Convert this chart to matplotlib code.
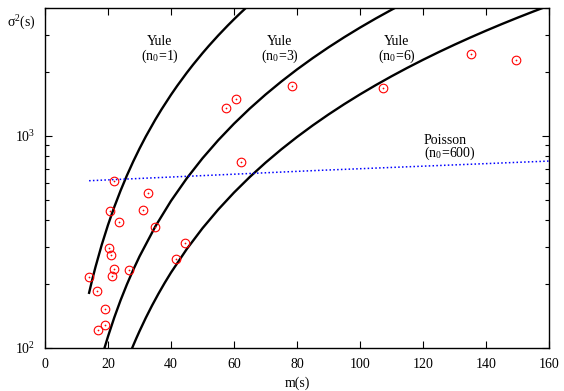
import matplotlib
matplotlib.use("Agg")
import matplotlib.pyplot as plt
from matplotlib.ticker import LogLocator, NullFormatter, FixedLocator

plt.rcParams['font.family'] = ['Liberation Serif', 'DejaVu Serif']
plt.rcParams['mathtext.fontset'] = 'stix'

# Observed data points
obs_m = [14.1, 16.6, 19.0, 19.1, 16.9, 20.2, 21.0, 22.0, 21.2, 26.7,
         20.7, 23.5, 21.9, 32.8, 31.1, 35.0, 44.3, 41.5,
         57.6, 60.6, 78.5, 62.3, 107.4, 135.2, 149.6]
obs_var = [217, 185, 152, 129, 122, 297, 274, 236, 218, 234,
           443, 393, 615, 540, 448, 373, 312, 263,
           1355, 1489, 1722, 754, 1683, 2426, 2265]

# Yule curves (n0 = 1, 3, 6)
yule1_m = [14, 15, 16, 18, 20, 22, 24, 26, 28, 30, 32, 35, 37, 40, 42, 45, 47, 50,
           52, 55, 58, 60, 62, 64]
yule1_v = [182, 210, 240, 306, 380, 462, 552, 650, 756, 870, 992, 1190, 1332, 1560, 1722,
           1980, 2162, 2450, 2652, 2970, 3306, 3540, 3782, 4032]

yule3_m = [18, 19, 20, 22, 24, 26, 28, 30, 35, 40, 45, 50, 55, 60, 65, 70, 75, 80, 85,
           90, 95, 100, 105, 110, 112]
yule3_v = [90, 101.3, 113.3, 139.3, 168, 199.3, 233.3, 270, 373.3, 493.3, 630, 783.3, 953.3,
           1140, 1343.3, 1563.3, 1800, 2053.3, 2323.3, 2610, 2913.3, 3233.3, 3570, 3923.3,
           4069.3]

yule6_m = [27, 28, 29, 30, 32, 34, 36, 38, 40, 45, 50, 55, 60, 65, 70, 75, 80, 85, 90, 95,
           100, 105, 110, 115, 120, 125, 130, 135, 140, 145, 150, 155, 160]
yule6_v = [94.5, 102.7, 111.2, 120, 138.7, 158.7, 180, 202.7, 226.7, 292.5, 366.7, 449.2,
           540, 639.2, 746.7, 862.5, 986.7, 1119.2, 1260, 1409.2, 1566.7, 1732.5, 1906.7,
           2089.2, 2280, 2479.2, 2686.7, 2902.5, 3126.7, 3359.2, 3600, 3849.2, 4106.7]

# Poisson line (n0 = 600)
pois_m = [14, 87, 160]
pois_v = [614, 687, 760]

x_ticks = [0, 20, 40, 60, 80, 100, 120, 140, 160]

fig = plt.figure(figsize=(5.64, 3.91), dpi=100)
ax = fig.add_axes([45/564, 1-348/391, (549-45)/564, (348-8)/391])

for xm, yv in [(yule1_m, yule1_v), (yule3_m, yule3_v), (yule6_m, yule6_v)]:
    ax.plot(xm, yv, color='black', lw=1.7, solid_joinstyle='round')
ax.plot(pois_m, pois_v, color='blue', lw=1.1, linestyle=(0, (1, 1.5)))

ax.plot(obs_m, obs_var, linestyle='none', marker='o', markersize=6.2,
        markerfacecolor='none', markeredgecolor='red', markeredgewidth=0.8)
ax.plot(obs_m, obs_var, linestyle='none', marker='o', markersize=0.9,
        markerfacecolor='red', markeredgecolor='red', markeredgewidth=0.3)

ax.set_yscale('log')
ax.set_xlim(0, 160)
ax.set_ylim(100, 4000)
ax.xaxis.set_major_locator(FixedLocator(x_ticks))
ax.set_xticklabels([str(t) for t in x_ticks])
ax.yaxis.set_major_locator(LogLocator(base=10, numticks=10))
ax.yaxis.set_minor_locator(LogLocator(base=10, subs=range(2, 10), numticks=10))
ax.yaxis.set_minor_formatter(NullFormatter())

ax.tick_params(axis='both', which='major', direction='in', length=5, width=0.8,
               top=True, right=True, labelsize=10, pad=7)
ax.tick_params(axis='both', which='minor', direction='in', length=3, width=0.8,
               top=True, right=True)
for s in ax.spines.values():
    s.set_linewidth(1.0)

ax.set_xlabel('m(s)', fontsize=10, labelpad=4)
fig.text(7/564, 1-23/391, r'$\mathregular{\sigma^2}$(s)', fontsize=10, va='center', ha='left')

fs = 10
ax.text(36.5, 2780, 'Yule', ha='center', va='center', fontsize=fs)
ax.text(36.5, 2370, r'(n$_\mathregular{0}$=1)', ha='center', va='center', fontsize=fs)
ax.text(74.6, 2780, 'Yule', ha='center', va='center', fontsize=fs)
ax.text(74.6, 2370, r'(n$_\mathregular{0}$=3)', ha='center', va='center', fontsize=fs)
ax.text(111.7, 2780, 'Yule', ha='center', va='center', fontsize=fs)
ax.text(111.7, 2370, r'(n$_\mathregular{0}$=6)', ha='center', va='center', fontsize=fs)
ax.text(120.3, 955, 'Poisson', ha='left', va='center', fontsize=fs)
ax.text(120.3, 823, r'(n$_\mathregular{0}$=600)', ha='left', va='center', fontsize=fs)

fig.savefig('out.png', dpi=100)
